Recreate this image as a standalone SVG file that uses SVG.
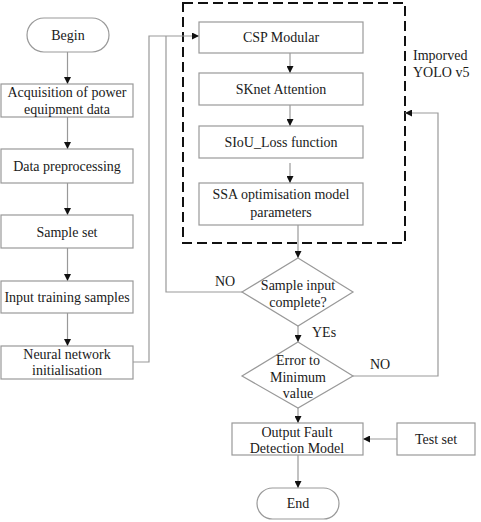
<svg xmlns="http://www.w3.org/2000/svg" width="481" height="522" viewBox="0 0 481 522">
<defs>
<marker id="ah" viewBox="0 0 10 10" refX="10" refY="5" markerWidth="7" markerHeight="7" markerUnits="userSpaceOnUse" orient="auto">
<path d="M0,0 L10,5 L0,10 Z" fill="#111"/>
</marker>
<style>
.box{fill:#fff;stroke:#999;stroke-width:1.2}
.t{font-family:"Liberation Serif","Times New Roman",serif;font-size:14px;fill:#1a1a1a;text-anchor:middle}
.tl{font-family:"Liberation Serif","Times New Roman",serif;font-size:14px;fill:#1a1a1a}
.c{fill:none;stroke:#999;stroke-width:1.2}
.ca{fill:none;stroke:#999;stroke-width:1.2;marker-end:url(#ah)}
</style>
</defs>
<rect width="481" height="522" fill="#fff"/>
<g id="yolo-group">
<rect x="183" y="3" width="222" height="240" fill="none" stroke="#111" stroke-width="2" stroke-dasharray="10,5"/>
<text class="tl" x="413" y="60">Imporved</text>
<text class="tl" x="413" y="77">YOLO v5</text>
</g>
<g id="connectors">
<line class="ca" x1="67.5" y1="52" x2="67.5" y2="84"/>
<line class="ca" x1="67.5" y1="117" x2="67.5" y2="149"/>
<line class="ca" x1="67.5" y1="183" x2="67.5" y2="215"/>
<line class="ca" x1="67.5" y1="248" x2="67.5" y2="281"/>
<line class="ca" x1="67.5" y1="313" x2="67.5" y2="346"/>
<polyline class="ca" points="133,362 149,362 149,36 199,36"/>
<polyline class="c" points="242,292 166,292 166,36"/>
<line class="ca" x1="290" y1="53" x2="290" y2="73"/>
<line class="ca" x1="290" y1="105" x2="290" y2="126"/>
<line class="ca" x1="290" y1="163" x2="290" y2="183"/>
<line class="ca" x1="298" y1="225" x2="298" y2="258"/>
<line class="ca" x1="298" y1="326" x2="298" y2="342"/>
<polyline class="ca" points="353,376 438,376 438,113 405,113"/>
<line class="ca" x1="298" y1="408" x2="298" y2="423"/>
<line class="ca" x1="397" y1="439" x2="363" y2="439"/>
<line class="ca" x1="298" y1="455" x2="298" y2="488"/>
<text class="tl" x="215" y="286">NO</text>
<text class="tl" x="312" y="337">YEs</text>
<text class="tl" x="370" y="369">NO</text>
</g>
<g id="begin">
<rect class="box" x="27" y="18" width="82" height="34" rx="17"/>
<text class="t" x="68" y="40">Begin</text>
</g>
<g id="acquisition">
<rect class="box" x="1" y="84" width="132" height="33"/>
<text class="t" x="67" y="97">Acquisition of power</text>
<text class="t" x="67" y="114">equipment data</text>
</g>
<g id="preprocessing">
<rect class="box" x="1" y="149" width="132" height="34"/>
<text class="t" x="67" y="171">Data preprocessing</text>
</g>
<g id="sample-set">
<rect class="box" x="1" y="215" width="132" height="33"/>
<text class="t" x="67" y="237">Sample set</text>
</g>
<g id="input-training">
<rect class="box" x="1" y="281" width="132" height="32"/>
<text class="t" x="67" y="302">Input training samples</text>
</g>
<g id="nn-init">
<rect class="box" x="1" y="346" width="132" height="33"/>
<text class="t" x="67" y="359">Neural network</text>
<text class="t" x="67" y="375">initialisation</text>
</g>
<g id="csp">
<rect class="box" x="199" y="22" width="164" height="31"/>
<text class="t" x="281" y="42">CSP Modular</text>
</g>
<g id="sknet">
<rect class="box" x="199" y="73" width="164" height="32"/>
<text class="t" x="281" y="94">SKnet Attention</text>
</g>
<g id="siou">
<rect class="box" x="199" y="126" width="164" height="32"/>
<text class="t" x="281" y="147">SIoU_Loss function</text>
</g>
<g id="ssa">
<rect class="box" x="199" y="183" width="164" height="42"/>
<text class="t" x="281" y="199">SSA optimisation model</text>
<text class="t" x="281" y="217">parameters</text>
</g>
<g id="sample-complete">
<polygon class="box" points="298,258 353,292 298,326 242,292"/>
<text class="t" x="298" y="290">Sample input</text>
<text class="t" x="298" y="307">complete?</text>
</g>
<g id="error-min">
<polygon class="box" points="298,342 353,376 298,408 242,376"/>
<text class="t" x="298" y="365">Error to</text>
<text class="t" x="298" y="382">Minimum</text>
<text class="t" x="298" y="398">value</text>
</g>
<g id="output">
<rect class="box" x="232" y="423" width="131" height="32"/>
<text class="t" x="297" y="437">Output Fault</text>
<text class="t" x="297" y="453">Detection Model</text>
</g>
<g id="test-set">
<rect class="box" x="397" y="423" width="78" height="32"/>
<text class="t" x="436" y="444">Test set</text>
</g>
<g id="end">
<rect class="box" x="257" y="488" width="82" height="31" rx="15.5"/>
<text class="t" x="298" y="508">End</text>
</g>
</svg>
